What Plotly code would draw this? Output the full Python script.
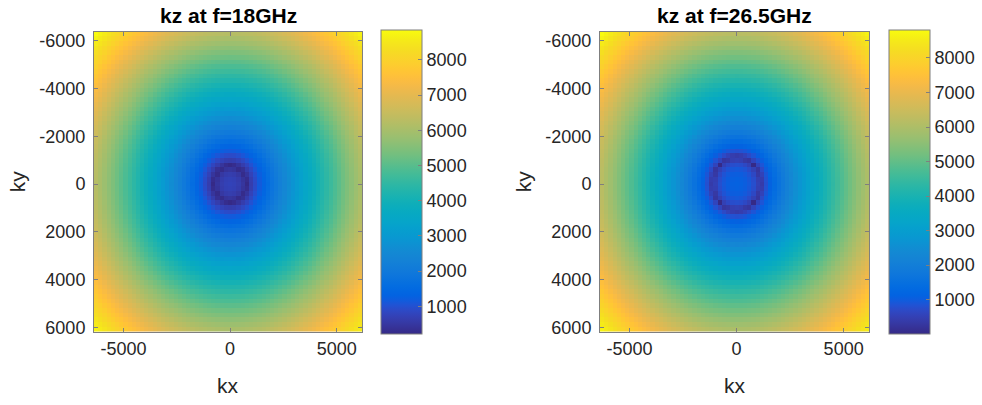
import numpy as np
import plotly.graph_objects as go

# Measurement setup
freqs_ghz = [18.0, 26.5]
panel_titles = ["kz at f=18GHz", "kz at f=26.5GHz"]
n_grid = 64            # samples per side of the aperture
spacing_m = 0.5e-3     # sample spacing
c0 = 299792458.0

x_tick_vals = [-5000, 0, 5000]
y_tick_vals = [-6000, -4000, -2000, 0, 2000, 4000, 6000]
cbar_tick_vals = [1000, 2000, 3000, 4000, 5000, 6000, 7000, 8000]

# Spatial-frequency grid (fftshift ordering)
dk = 2 * np.pi / (n_grid * spacing_m)
kx = (np.arange(n_grid) - n_grid // 2) * dk
ky = kx.copy()
KX, KY = np.meshgrid(kx, ky)

# MATLAB parula colormap
parula = [
    [0.2081, 0.1663, 0.5292], [0.2116, 0.1898, 0.5777], [0.2123, 0.2138, 0.6270], [0.2081, 0.2386, 0.6771],
    [0.1959, 0.2645, 0.7279], [0.1707, 0.2919, 0.7792], [0.1253, 0.3242, 0.8303], [0.0591, 0.3598, 0.8683],
    [0.0117, 0.3875, 0.8820], [0.0060, 0.4086, 0.8828], [0.0165, 0.4266, 0.8786], [0.0329, 0.4430, 0.8720],
    [0.0498, 0.4586, 0.8641], [0.0629, 0.4737, 0.8554], [0.0723, 0.4887, 0.8467], [0.0779, 0.5040, 0.8384],
    [0.0793, 0.5200, 0.8312], [0.0749, 0.5375, 0.8263], [0.0641, 0.5570, 0.8240], [0.0488, 0.5772, 0.8228],
    [0.0343, 0.5966, 0.8199], [0.0265, 0.6137, 0.8135], [0.0239, 0.6287, 0.8038], [0.0231, 0.6418, 0.7913],
    [0.0228, 0.6535, 0.7768], [0.0267, 0.6642, 0.7607], [0.0384, 0.6743, 0.7436], [0.0590, 0.6838, 0.7254],
    [0.0843, 0.6928, 0.7062], [0.1133, 0.7015, 0.6859], [0.1453, 0.7098, 0.6646], [0.1801, 0.7177, 0.6424],
    [0.2178, 0.7250, 0.6193], [0.2586, 0.7317, 0.5954], [0.3022, 0.7376, 0.5712], [0.3482, 0.7424, 0.5473],
    [0.3953, 0.7459, 0.5244], [0.4420, 0.7481, 0.5033], [0.4871, 0.7491, 0.4840], [0.5300, 0.7491, 0.4661],
    [0.5709, 0.7485, 0.4494], [0.6099, 0.7473, 0.4337], [0.6473, 0.7456, 0.4188], [0.6834, 0.7435, 0.4044],
    [0.7184, 0.7411, 0.3905], [0.7525, 0.7384, 0.3768], [0.7858, 0.7356, 0.3633], [0.8185, 0.7327, 0.3498],
    [0.8507, 0.7299, 0.3360], [0.8824, 0.7274, 0.3217], [0.9139, 0.7258, 0.3063], [0.9450, 0.7261, 0.2886],
    [0.9739, 0.7314, 0.2666], [0.9938, 0.7455, 0.2403], [0.9990, 0.7653, 0.2164], [0.9955, 0.7861, 0.1967],
    [0.9880, 0.8066, 0.1794], [0.9789, 0.8271, 0.1633], [0.9697, 0.8481, 0.1475], [0.9626, 0.8705, 0.1309],
    [0.9589, 0.8949, 0.1132], [0.9598, 0.9218, 0.0948], [0.9661, 0.9514, 0.0755], [0.9763, 0.9831, 0.0538],
]
colorscale = [
    [i / (len(parula) - 1), "rgb(%d,%d,%d)" % tuple(round(v * 255) for v in c)]
    for i, c in enumerate(parula)
]

W, H = 982, 405
TXT = "#262626"
FONT = "Liberation Sans, Arial, sans-serif"
TICK_SIZE = 18
LABEL_SIZE = 21

# pixel layout of the two panels: (left, right) of plot box and colorbar left edge
panels = [(94, 362, 381), (600, 869, 889)]
top_px, bot_px = 32, 337

fig = go.Figure()
x_rng = [kx[0] - dk / 2, kx[-1] + dk / 2]
y_rng = [ky[-1] + dk / 2, ky[0] - dk / 2]


def labels(vals):
    # plain hyphen-minus tick text
    return [str(v) for v in vals]


for i, (f, title) in enumerate(zip(freqs_ghz, panel_titles)):
    k0 = 2 * np.pi * f * 1e9 / c0
    kz = np.sqrt(np.abs((2 * k0) ** 2 - KX ** 2 - KY ** 2))
    left, right, cb_left = panels[i]
    sfx = "" if i == 0 else str(i + 1)
    fig.add_trace(go.Heatmap(
        x=kx, y=ky, z=kz, colorscale=colorscale, zsmooth=False,
        xaxis="x" + sfx, yaxis="y" + sfx,
        colorbar=dict(
            x=cb_left / W, xanchor="left", xpad=0,
            y=1 - (top_px + bot_px) / 2 / H, yanchor="middle", ypad=0,
            len=bot_px - top_px - 1, lenmode="pixels",
            thickness=41, thicknessmode="pixels",
            outlinecolor="#7f7f7f", outlinewidth=1,
            tickvals=cbar_tick_vals, ticktext=labels(cbar_tick_vals),
            ticks="inside", ticklen=4, tickcolor="#7f7f7f",
            tickfont=dict(family=FONT, size=TICK_SIZE, color=TXT),
        ),
        hoverinfo="skip",
    ))
    ax = dict(
        domain=[left / W, right / W], showgrid=False, zeroline=False,
        showline=True, linecolor="#7f7f7f", linewidth=1, mirror="ticks",
        ticks="inside", ticklen=4, tickcolor="#7f7f7f",
        tickfont=dict(family=FONT, size=TICK_SIZE, color=TXT),
    )
    fig.update_layout(**{
        "xaxis" + sfx: dict(ax, range=x_rng, tickvals=x_tick_vals, ticktext=labels(x_tick_vals),
                            anchor="y" + sfx),
        "yaxis" + sfx: dict(ax, domain=[1 - bot_px / H, 1 - top_px / H], range=y_rng,
                            tickvals=y_tick_vals, ticktext=labels(y_tick_vals),
                            anchor="x" + sfx, ticklabelstandoff=4),
    })
    cx = (left + right) / 2 / W
    fig.add_annotation(text="<b>%s</b>" % title, x=cx, y=1 - 16 / H, xref="paper", yref="paper",
                       showarrow=False, font=dict(family=FONT, size=21, color="#000000"),
                       xanchor="center", yanchor="middle")
    fig.add_annotation(text="kx", x=cx, y=1 - 391 / H, xref="paper", yref="paper",
                       showarrow=False, font=dict(family=FONT, size=LABEL_SIZE, color=TXT),
                       xanchor="center", yanchor="middle")
    fig.add_annotation(text="ky", x=(left - 77) / W, y=1 - 184 / H, xref="paper", yref="paper",
                       showarrow=False, textangle=-90, font=dict(family=FONT, size=LABEL_SIZE, color=TXT),
                       xanchor="center", yanchor="middle")

fig.update_layout(
    width=W, height=H, margin=dict(l=0, r=0, t=0, b=0),
    paper_bgcolor="white", plot_bgcolor="white", showlegend=False,
)
fig.write_html("out.html")
